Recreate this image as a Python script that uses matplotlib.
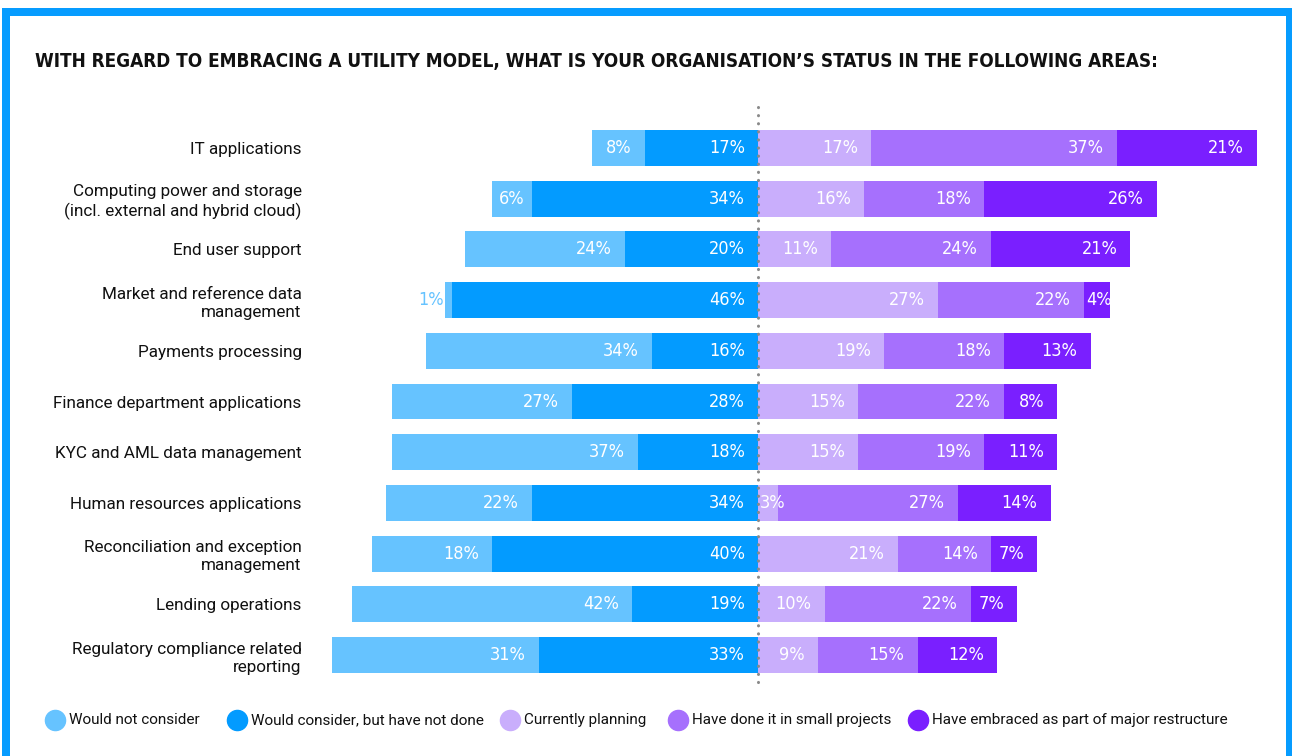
import matplotlib
matplotlib.use("Agg")
import matplotlib.pyplot as plt
from matplotlib import font_manager
from matplotlib.patches import Rectangle
from matplotlib.lines import Line2D

# ---- data -------------------------------------------------------------
categories = [
    "IT applications",
    "Computing power and storage\n(incl. external and hybrid cloud)",
    "End user support",
    "Market and reference data\nmanagement",
    "Payments processing",
    "Finance department applications",
    "KYC and AML data management",
    "Human resources applications",
    "Reconciliation and exception\nmanagement",
    "Lending operations",
    "Regulatory compliance related\nreporting",
]
would_not_consider = [8, 6, 24, 1, 34, 27, 37, 22, 18, 42, 31]
would_consider_not_done = [17, 34, 20, 46, 16, 28, 18, 34, 40, 19, 33]
currently_planning = [17, 16, 11, 27, 19, 15, 15, 3, 21, 10, 9]
small_projects = [37, 18, 24, 22, 18, 22, 19, 27, 14, 22, 15]
major_restructure = [21, 26, 21, 4, 13, 8, 11, 14, 7, 7, 12]

series_names = [
    "Would not consider",
    "Would consider, but have not done",
    "Currently planning",
    "Have done it in small projects",
    "Have embraced as part of major restructure",
]
colors = ["#66c3ff", "#039bff", "#c9aefc", "#a670fd", "#7a1fff"]

title = "WITH REGARD TO EMBRACING A UTILITY MODEL, WHAT IS YOUR ORGANISATION\u2019S STATUS IN THE FOLLOWING AREAS:"

# ---- fonts ------------------------------------------------------------
names = {f.name for f in font_manager.fontManager.ttflist}
body_font = "Roboto" if "Roboto" in names else "DejaVu Sans"
narrow = dict(family=body_font)
if "Liberation Sans Narrow" in names:
    narrow = dict(family="Liberation Sans Narrow")
else:
    path = font_manager.findfont(font_manager.FontProperties(
        family="DejaVu Sans", stretch="condensed"))
    if "Condensed" in path:
        narrow = dict(family="DejaVu Sans", stretch="condensed")

# ---- figure & axes ----------------------------------------------------
W, H = 1292, 756
fig = plt.figure(figsize=(W / 100, H / 100), dpi=100)
fig.patch.set_facecolor("white")

PX_PER_PCT = 6.65
X0 = 758  # pixel column of the zero line
ax_left, ax_right, ax_top, ax_bottom = 310, 1280, 100, 695
ax = fig.add_axes([ax_left / W, 1 - ax_bottom / H,
                   (ax_right - ax_left) / W, (ax_bottom - ax_top) / H])
ax.set_xlim((ax_left - X0) / PX_PER_PCT, (ax_right - X0) / PX_PER_PCT)
row_gap = 50.7
first_row = 148
ax.set_ylim((ax_bottom - first_row) / row_gap, (ax_top - first_row) / row_gap)
for s in ax.spines.values():
    s.set_visible(False)
ax.set_xticks([])
rows = list(range(len(categories)))
ax.set_yticks(rows)
ax.set_yticklabels(categories, fontsize=12.3, family=body_font, color="#111111",
                   linespacing=1.25)
ax.tick_params(axis="y", length=0, pad=6)

bar_h = 0.71
pad = 13 / PX_PER_PCT

right_series = [currently_planning, small_projects, major_restructure]

label_kw = dict(fontsize=13, color="white", va="center", **narrow)

for i in rows:
    # left side: stacked outward from zero
    a, b = would_not_consider[i], would_consider_not_done[i]
    ax.barh(i, -b, left=0, height=bar_h, color=colors[1], linewidth=0)
    ax.barh(i, -a, left=-b, height=bar_h, color=colors[0], linewidth=0)
    ax.text(-pad, i, f"{b}%", ha="right", **label_kw)
    if a <= 2:
        kw = dict(label_kw)
        kw["color"] = colors[0]
        ax.text(-(a + b) - 0.3, i, f"{a}%", ha="right", **kw)
    elif a <= 6:
        ax.text(-b - a / 2, i, f"{a}%", ha="center", **label_kw)
    else:
        ax.text(-b - pad, i, f"{a}%", ha="right", **label_kw)

    # right side
    start = 0
    for k, vals in enumerate(right_series):
        v = vals[i]
        ax.barh(i, v, left=start, height=bar_h, color=colors[2 + k], linewidth=0)
        if v <= 4:
            ax.text(start + 0.3, i, f"{v}%", ha="left", **label_kw)
        else:
            ax.text(start + v - pad, i, f"{v}%", ha="right", **label_kw)
        start += v

# dotted zero line
ax.plot([0, 0], [(107 - first_row) / row_gap, (690 - first_row) / row_gap],
        color="#8a8a8a", lw=2.2, linestyle=(0, (0.05, 2.6)),
        dash_capstyle="round", clip_on=False, zorder=5)

# ---- title ------------------------------------------------------------
title_kw = dict(narrow)
t = fig.text(35 / W, 1 - 62 / H, title, ha="left", va="center",
             fontsize=30, fontweight="heavy", color="#111111", **title_kw)
fig.canvas.draw()
w = t.get_window_extent().width
t.set_fontsize(30 * 1120 / w)

# ---- legend -----------------------------------------------------------
legend_x = [55, 237, 510, 678, 918]
legend_y = 720
for name, c, x in zip(series_names, colors, legend_x):
    fig.add_artist(Line2D([x / W], [1 - legend_y / H], marker="o",
                          markersize=14.5, color=c, linestyle="none",
                          transform=fig.transFigure))
    fig.text((x + 14) / W, 1 - legend_y / H, name, ha="left", va="center",
             fontsize=11, family=body_font, color="#111111")

# ---- frame ------------------------------------------------------------
fig.add_artist(Rectangle((6 / W, 1 - 790 / H), (1290 - 6) / W, (790 - 12) / H,
                         transform=fig.transFigure, fill=False,
                         edgecolor="#069cff", linewidth=8 * 0.72))

fig.savefig("out.png", dpi=100, facecolor="white")
